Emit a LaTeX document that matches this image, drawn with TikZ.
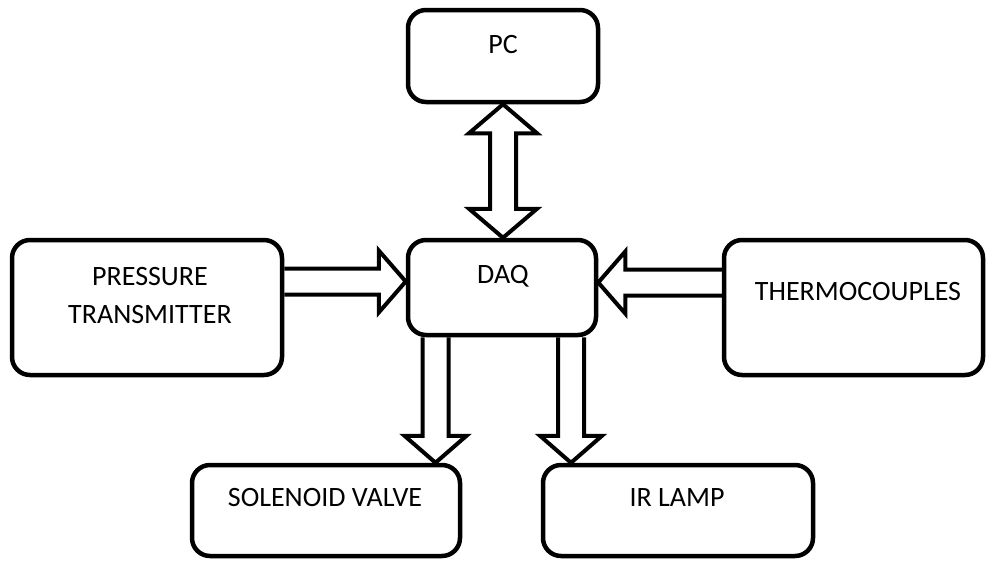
\documentclass[tikz,border=0pt]{standalone}
\usepackage{fontspec}
\setmainfont{Carlito}
\usetikzlibrary{calc}

\tikzset{
  box/.style={draw, line width=4.5pt, rounded corners=18pt},
  boxtext/.style={font=\fontsize{28}{38}\selectfont, align=center, inner sep=0pt},
  arrowline/.style={draw, line width=4pt, line join=miter},
}

% hollow block arrow: tail, tip
\newcommand\flowarrow[2]{%
  \coordinate (hb) at ($(#2)!27pt!(#1)$);
  \draw[arrowline] ($(#1)!13pt!90:(#2)$) -- ($(hb)!13pt!90:(#2)$)
    -- ($(hb)!31pt!90:(#2)$) -- (#2) -- ($(hb)!31pt!-90:(#2)$)
    -- ($(hb)!13pt!-90:(#2)$) -- ($(#1)!13pt!-90:(#2)$);
}
% hollow block arrow with two heads
\newcommand\dualarrow[2]{%
  \coordinate (hbA) at ($(#1)!29pt!(#2)$);
  \coordinate (hbB) at ($(#2)!29pt!(#1)$);
  \draw[arrowline] (#1) -- ($(hbA)!34pt!90:(#2)$) -- ($(hbA)!13pt!90:(#2)$)
    -- ($(hbB)!13pt!90:(#2)$) -- ($(hbB)!34pt!90:(#2)$) -- (#2)
    -- ($(hbB)!34pt!-90:(#2)$) -- ($(hbB)!13pt!-90:(#2)$)
    -- ($(hbA)!13pt!-90:(#2)$) -- ($(hbA)!34pt!-90:(#2)$) -- cycle;
}

\begin{document}
\begin{tikzpicture}[x=1pt, y=-1pt]
\useasboundingbox (0,0) rectangle (987,560);

% boxes
\node (pc) [box, minimum width=190pt, minimum height=92pt] at (503,56) {};
\node (daq) [box, minimum width=188pt, minimum height=95pt] at (502,287.5) {};
\node (pt) [box, minimum width=270pt, minimum height=135pt] at (147,307.5) {};
\node (tc) [box, minimum width=259pt, minimum height=135pt] at (853.5,307.5) {};
\node (sv) [box, minimum width=268pt, minimum height=91pt] at (326,510.5) {};
\node (ir) [box, minimum width=270pt, minimum height=91pt] at (678,510.5) {};

% labels
\node (pclbl) [boxtext] at (503,45) {PC};
\node (daqlbl) [boxtext] at (503,276) {DAQ};
\node (ptlbl) [boxtext] at (150,296) {PRESSURE\\TRANSMITTER};
\node (tclbl) [boxtext] at (858,292) {THERMOCOUPLES};
\node (svlbl) [boxtext] at (325,498) {SOLENOID VALVE};
\node (irlbl) [boxtext] at (677,498) {IR LAMP};

% connections
\coordinate (ptout) at ($(pt.east)+(0,-26)$);
\coordinate (daqinl) at (ptout -| daq.west);
\flowarrow{ptout}{daqinl}

\coordinate (tcout) at ($(tc.west)+(0,-25)$);
\coordinate (daqinr) at (tcout -| daq.east);
\flowarrow{tcout}{daqinr}

\coordinate (daqsv) at ($(daq.south)+(-66.5,0)$);
\coordinate (svin) at (daqsv |- sv.north);
\flowarrow{daqsv}{svin}

\coordinate (daqir) at ($(daq.south)+(69,0)$);
\coordinate (irin) at (daqir |- ir.north);
\flowarrow{daqir}{irin}

\coordinate (daqtop) at (pc.south |- daq.north);
\dualarrow{pc.south}{daqtop}
\end{tikzpicture}
\end{document}
